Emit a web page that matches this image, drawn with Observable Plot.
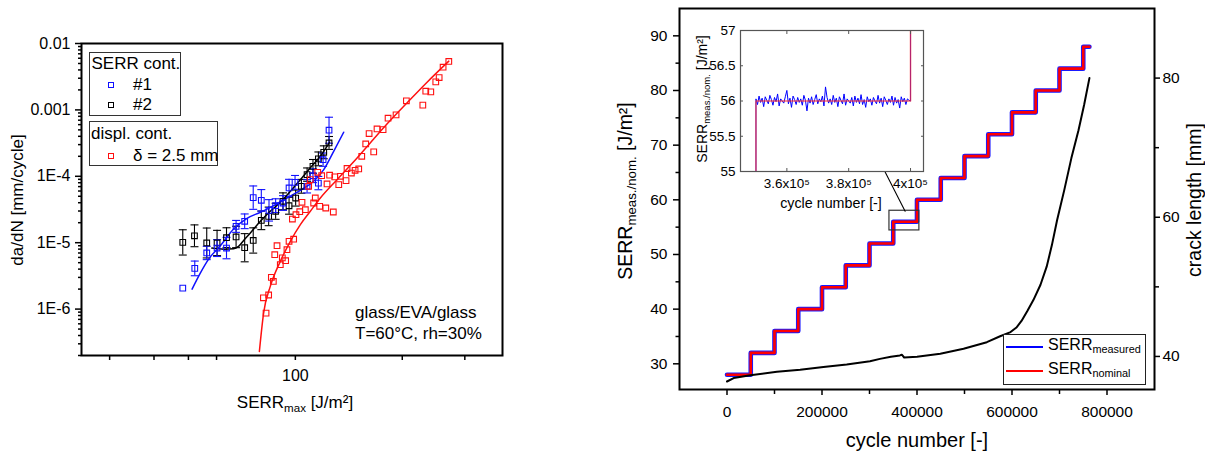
<!DOCTYPE html>
<html><head><meta charset="utf-8">
<script src="https://cdn.jsdelivr.net/npm/d3@7"></script>
<script src="https://cdn.jsdelivr.net/npm/@observablehq/plot@0.6"></script>
<style>
body{margin:0;background:#fff;font-family:"Liberation Sans",Arial,sans-serif;color:#000}
#wrap{position:relative;width:1205px;height:453px;overflow:hidden;background:#fff}
.abs{position:absolute;white-space:nowrap;line-height:1}
.abs sub{font-size:0.68em;vertical-align:baseline;position:relative;top:0.32em;line-height:0}
</style></head><body><div id="wrap"></div>
<script>
// ================= LEFT PANEL DATA =================
// SERR cont. #1 (blue)
const serr1 = [48.2,52.1,56.3,60.2,64.0,68.1,72.0,76.1,80.2,84.3,88.0,92.3,96.0,99.8,107.9,112.1,116.1,119.7,124.4];
const rate1 = [2.07e-6,4.1e-6,7.0e-6,8.3e-6,8.3e-6,1.76e-5,2.1e-5,4.77e-5,4.35e-5,3.07e-5,3.61e-5,3.96e-5,6.67e-5,8.1e-5,7.07e-5,1.02e-4,7.9e-5,1.78e-4,4.94e-4];
const errFactor1 = [1,1.29,1.26,1.34,1.45,1.23,1.29,1.5,1.45,1.45,1.27,1.29,1.35,1.27,1.26,1.27,1.26,1.26,1.57];
// SERR cont. #2 (black)
const serr2 = [48.2,52.0,56.3,60.2,64.0,68.1,72.0,76.1,80.2,84.1,88.0,92.3,96.0,100.2,104.0,107.9,112.1,116.1,120.2,124.4];
const rate2 = [1.01e-5,1.27e-5,9.9e-6,9.9e-6,1.19e-5,1.22e-5,8.4e-6,1.08e-5,2.17e-5,2.49e-5,2.97e-5,4.2e-5,3.6e-5,4.7e-5,7.07e-5,1.06e-4,1.41e-4,1.83e-4,2.3e-4,3.18e-4];
const errFactor2 = [1.55,1.46,1.68,1.55,1.41,1.45,1.63,1.55,1.38,1.38,1.32,1.34,1.34,1.32,1.27,1.26,1.27,1.27,1.25,1.25];
// displ. cont. delta = 2.5 mm (red)
const serrD = [82.7,81.3,84.1,85.6,86.7,87.5,88.8,90.7,91.9,93.9,94.7,96.0,98.9,98.1,100.4,102.9,106.7,104.4,113.8,112.6,117.1,121.8,127.9,109.0,110.2,115.6,118.6,122.8,124.9,129.1,132.5,133.9,138.9,139.8,143.8,147.3,150.8,153.8,157.8,161.3,166.2,169.8,176.6,182.4,192.1,205.4,228.5,232.9,240.6,248.5,254.0,260.6,270.4];
const rateD = [8.7e-7,1.48e-6,1.63e-6,3.0e-6,2.61e-6,6.6e-6,9.0e-6,4.66e-6,5.9e-6,5.36e-6,7.84e-6,1.05e-5,1.13e-5,2.27e-5,2.64e-5,2.93e-5,3.14e-5,4.06e-5,4.71e-5,3.96e-5,3.53e-5,3.33e-5,2.9e-5,7.07e-5,8.9e-5,1.15e-4,1.02e-4,7.66e-5,1.04e-4,9.8e-5,7.49e-5,1.0e-4,8.6e-5,1.31e-4,1.12e-4,1.23e-4,1.29e-4,2.0e-4,3.07e-4,4.4e-4,2.33e-4,5.17e-4,5.05e-4,7.49e-4,8.41e-4,1.37e-3,1.18e-3,1.91e-3,1.87e-3,2.64e-3,3.07e-3,4.4e-3,5.36e-3];
// fit curves
const fit1X = [51.2,54.0,57.0,61.5,67.0,73.1,79.7,86.9,94.7,103.3,112.6,120.2,128.2,136.8];
const fit1Y = [2.0e-6,3.49e-6,5.67e-6,9.0e-6,1.61e-5,2.33e-5,2.87e-5,3.61e-5,4.71e-5,6.15e-5,8.4e-5,1.26e-4,2.38e-4,4.61e-4];
const fit2X = [58.2,62.9,67.0,69.2,71.5,74.7,79.7,85.0,90.7,96.8,103.3,110.2,117.6,124.9];
const fit2Y = [8.3e-6,8.0e-6,8.1e-6,8.8e-6,1.08e-5,1.40e-5,2.10e-5,2.97e-5,4.06e-5,5.94e-5,8.9e-5,1.34e-4,2.0e-4,3.26e-4];
const fitDX = [79.2,81.4,85.0,90.7,96.8,103.3,110.2,117.6,131.0,149.2,166.2,185.2,206.4,234.9,270.4];
const fitDY = [2.3e-7,8.7e-7,2.2e-6,5.24e-6,1.05e-5,1.87e-5,2.97e-5,4.72e-5,8.9e-5,1.89e-4,3.66e-4,6.98e-4,1.28e-3,2.61e-3,5.42e-3];
// left axes ticks
const leftYTicks = [1e-6,1e-5,1e-4,1e-3,1e-2];
const leftYLabels = ["1E-6","1E-5","1E-4","0.001","0.01"];
const leftXTicks = [30,40,50,60,100,200,300];
const leftXLabels = ["","","","","100","",""];

// ================= RIGHT PANEL DATA =================
const stepCycles = [0,50000,100000,150000,200000,250000,300000,350000,400000,450000,500000,550000,600000,650000,700000,750000];
const stepSERR   = [28,32,36,40,44,48,52,56,60,64,68,72,76,80,84,88];
const endCycle = 763000;
const crackCycles = [0,14000,49000,105000,154000,203000,252000,301000,322000,345000,364000,368000,373000,400000,449000,498000,547000,575000,597000,610000,620000,632000,645000,660000,673000,684000,695000,710000,725000,740000,752000,763000];
const crackLength = [36.4,36.9,37.3,37.8,38.1,38.5,38.85,39.3,39.65,39.95,40.15,40.25,39.85,39.95,40.4,41.1,42.05,42.9,43.5,44.2,45.1,46.5,48.1,50.3,52.9,56.0,59.6,63.9,68.5,72.5,76.2,80.0];
// inset: measured SERR between 3.5e5 and 4e5 cycles (every 500 cycles)
const insetStart = 350000, insetStep = 500;
const insetMeasured = [
56.03,55.95,56.07,55.98,56.04,55.92,56.06,56.01,55.96,56.08,
56.02,55.94,56.05,55.99,56.10,55.93,56.03,56.00,55.97,56.06,
56.15,55.96,56.04,55.91,56.07,56.02,55.95,56.05,55.98,56.03,
55.94,56.08,56.01,55.86,56.04,55.97,56.06,55.95,56.02,56.09,
55.96,56.03,55.99,56.07,55.93,56.20,56.05,55.97,56.03,55.95,
56.08,55.98,56.04,55.92,56.06,56.01,55.96,56.10,55.94,56.03,
56.00,55.97,56.05,55.93,56.07,55.98,56.04,55.96,56.09,55.95,
56.02,55.91,56.06,55.99,56.03,55.94,56.05,56.00,55.96,56.08,
55.97,56.04,55.92,56.06,56.01,55.95,56.03,55.98,56.07,55.94,
56.05,55.97,56.02,55.90,56.06,55.99,56.04,55.95,56.03,56.01];
const zoomBox = [{x1:342000, x2:405000, y1:54.4, y2:58}];
const zoomArrow = [{x1:375000, y1:57.9, x2:286000, y2:73.1}];
const rightXTicks = [0,200000,400000,600000,800000];
const rightXMinor = [100000,300000,500000,700000];
const rightYTicks = [30,40,50,60,70,80,90];
const rightYMinor = [35,45,55,65,75,85];
const crackTicks = [40,60,80];
const crackMinor = [50,70];
const insetYTicks = [55,55.5,56,56.5,57];
const insetXTicks = [360000,380000,400000];

// ================= BUILD =================
const FONT = '"Liberation Sans", Arial, sans-serif';
const wrap = document.getElementById("wrap");
function addSvg(svg, left, top){ svg.style.position="absolute"; svg.style.left=left+"px"; svg.style.top=top+"px"; svg.style.maxWidth="none"; wrap.appendChild(svg); return svg; }
function txt(html, x, y, size, anchor="start", rotate=false){
  const d=document.createElement("div"); d.className="abs"; d.innerHTML=html;
  d.style.fontSize=size+"px"; d.style.left=x+"px"; d.style.top=y+"px";
  const tx = anchor==="middle" ? "-50%" : anchor==="end" ? "-100%" : "0";
  d.style.transform = rotate ? "translate(-50%,-50%) rotate(-90deg)" : `translate(${tx},-50%)`;
  wrap.appendChild(d); return d;
}
function box(x,y,w,h,border,bg){ const d=document.createElement("div"); Object.assign(d.style,{position:"absolute",left:x+"px",top:y+"px",width:w+"px",height:h+"px",border:border,background:bg||"transparent",boxSizing:"border-box"}); wrap.appendChild(d); return d;}

const capSymbol = {draw(ctx, size){ const w=Math.sqrt(size); ctx.moveTo(-w/2,0); ctx.lineTo(w/2,0);} };

const ptsOf = (xs,ys,fs)=>xs.map((x,i)=>({x, y:ys[i], lo: fs? ys[i]/fs[i]:ys[i], hi: fs? ys[i]*fs[i]:ys[i], f: fs?fs[i]:1}));
const p1 = ptsOf(serr1, rate1, errFactor1);
const p2 = ptsOf(serr2, rate2, errFactor2);
const pD = ptsOf(serrD, rateD);
const f1 = ptsOf(fit1X, fit1Y), f2 = ptsOf(fit2X, fit2Y), fD = ptsOf(fitDX, fitDY);

const yMinorLeft = [];
for (let e=-7; e<=-3; e++) for (let m=2; m<=9; m++){ const v=m*Math.pow(10,e); if (v>=2e-7 && v<0.01) yMinorLeft.push(v); }

const BLUE="#1010ff", RED="#ff1010";
function errMarks(p, color){
  const q = p.filter(d=>d.f>1);
  return [
    Plot.ruleX(q, {x:"x", y1:"lo", y2:"hi", stroke:color, strokeWidth:1.1}),
    Plot.dot(q, {x:"x", y:"lo", symbol:capSymbol, r:4.5, stroke:color, strokeWidth:1.1, fill:"none"}),
    Plot.dot(q, {x:"x", y:"hi", symbol:capSymbol, r:4.5, stroke:color, strokeWidth:1.1, fill:"none"})
  ];
}
const sq = (p,color)=>Plot.dot(p,{x:"x",y:"y",symbol:"square",r:3.2,stroke:color,strokeWidth:1.1,fill:"none"});

const left = Plot.plot({
  width:510, height:453, marginLeft:81, marginRight:8, marginTop:43, marginBottom:98,
  x:{type:"log", domain:[25,383]},
  y:{type:"log", domain:[2e-7,0.01]},
  style:{fontFamily:FONT, fontSize:"16px", color:"#000", background:"transparent", overflow:"visible"},
  marks:[
    ...errMarks(p2,"#000"),
    ...errMarks(p1,BLUE),
    Plot.line(fD,{x:"x",y:"y",stroke:RED,strokeWidth:1.5,curve:"monotone-x",clip:true}),
    Plot.line(f2,{x:"x",y:"y",stroke:"#000",strokeWidth:1.5,curve:"monotone-x"}),
    Plot.line(f1,{x:"x",y:"y",stroke:BLUE,strokeWidth:1.5,curve:"monotone-x"}),
    sq(p2,"#000"), sq(p1,BLUE), sq(pD,RED),
    Plot.frame({stroke:"#000",strokeWidth:2}),
    Plot.axisY(leftYTicks,{tickSize:6,tickPadding:5,strokeWidth:1.5,label:null,fontSize:16,tickFormat:(d)=>leftYLabels[leftYTicks.indexOf(d)]}),
    Plot.axisY(yMinorLeft,{tickSize:3,strokeWidth:1.5,label:null,tickFormat:()=>""}),
    Plot.axisX(leftXTicks,{tickSize:5,tickPadding:9,strokeWidth:1.5,label:null,fontSize:16,tickFormat:d=>leftXLabels[leftXTicks.indexOf(d)]})
  ]
});
addSvg(left,0,0);

// left titles, legends, annotation
txt("da/dN [mm/cycle]", 17, 200, 17, "middle", true);
txt("SERR<sub>max</sub> [J/m²]", 295, 402, 17, "middle");
txt("glass/EVA/glass", 355, 312, 17);
txt("T=60°C, rh=30%", 355, 333, 17);
box(89,52,92,64,"1.5px solid #333");
box(89,121,129,45,"1.5px solid #333");
txt("SERR cont.", 91.5, 63, 17);
txt("#1", 133, 84, 17);
txt("#2", 133, 104, 17);
txt("displ. cont.", 91, 133, 17);
txt("δ = 2.5 mm", 133, 155, 17);
box(107.5,81.5,6,6,"1px solid "+BLUE);
box(107.5,101.5,6,6,"1px solid #000");
box(107.5,152.5,6,6,"1px solid "+RED);

// ---------- right main ----------
const nominal = stepCycles.map((c,i)=>({c, v:stepSERR[i]})).concat([{c:endCycle, v:stepSERR[stepSERR.length-1]}]);
const crack = crackCycles.map((c,i)=>({c, v:crackLength[i]}));
const RM = {width:605, height:453, marginLeft:79, marginRight:51, marginTop:8, marginBottom:64};
const main = Plot.plot({
  ...RM,
  x:{domain:[-100000,900000]}, y:{domain:[25.3,95]},
  style:{fontFamily:FONT, fontSize:"15.5px", color:"#000", background:"transparent", overflow:"visible"},
  marks:[
    Plot.line(nominal,{x:"c",y:"v",curve:"step-after",stroke:"#1a1aff",strokeWidth:4.6}),
    Plot.line(nominal,{x:"c",y:"v",curve:"step-after",stroke:"#ff0000",strokeWidth:2.6}),
    Plot.rect(zoomBox,{x1:"x1",x2:"x2",y1:"y1",y2:"y2",stroke:"#333",strokeWidth:1.2,fill:"none"}),
    Plot.arrow(zoomArrow,{x1:"x1",y1:"y1",x2:"x2",y2:"y2",stroke:"#000",strokeWidth:1.1,headLength:9}),
    Plot.frame({stroke:"#000",strokeWidth:2}),
    Plot.axisY(rightYTicks,{tickSize:6,tickPadding:6,strokeWidth:1.5,label:null,fontSize:15.5}),
    Plot.axisY(rightYMinor,{tickSize:3.5,strokeWidth:1.5,label:null,tickFormat:()=>""}),
    Plot.axisX(rightXTicks,{tickSize:6,tickPadding:10,strokeWidth:1.5,label:null,fontSize:15.5,tickFormat:d=>String(d)}),
    Plot.axisX(rightXMinor,{tickSize:5,strokeWidth:1.5,label:null,tickFormat:()=>""})
  ]
});
addSvg(main,600,0);

const over = Plot.plot({
  ...RM,
  x:{domain:[-100000,900000], axis:null}, y:{domain:[35.25,90]},
  style:{fontFamily:FONT, fontSize:"15.5px", color:"#000", background:"transparent", overflow:"visible"},
  marks:[
    Plot.line(crack,{x:"c",y:"v",stroke:"#000",strokeWidth:2}),
    Plot.axisY(crackTicks,{anchor:"right",tickSize:5,tickPadding:3,strokeWidth:1.5,label:null,fontSize:15.5}),
    Plot.axisY(crackMinor,{anchor:"right",tickSize:4,strokeWidth:1.5,label:null,tickFormat:()=>""})
  ]
});
addSvg(over,600,0);

txt("SERR<sub>meas./nom.</sub> [J/m²]", 626, 191, 19.5, "middle", true);
txt("crack length [mm]", 1195, 200, 19.5, "middle", true);
txt("cycle number [-]", 917, 440, 20, "middle");

// ---------- inset ----------
const measIn = [{c:insetStart-1, v:stepSERR[6]}]
  .concat(insetMeasured.map((v,i)=>({c:insetStart+i*insetStep, v})))
  .concat([{c:stepCycles[8], v:stepSERR[7]},{c:stepCycles[8], v:stepSERR[8]}]);
const inset = Plot.plot({
  width:240, height:200, marginLeft:50, marginRight:7, marginTop:10, marginBottom:49,
  x:{domain:[345000,404200]}, y:{domain:[55,57]},
  style:{fontFamily:FONT, fontSize:"13.5px", color:"#000", background:"transparent", overflow:"visible"},
  marks:[
    Plot.frame({fill:"#fff"}),
    Plot.line(measIn,{x:"c",y:"v",stroke:"#0000ff",strokeWidth:1,clip:true}),
    Plot.line(nominal,{x:"c",y:"v",curve:"step-after",stroke:"#ff3030",strokeWidth:1.5,strokeOpacity:0.7,clip:true}),
    Plot.frame({stroke:"#555",strokeWidth:1.2}),
    Plot.axisY(insetYTicks,{tickSize:0,tickPadding:5,label:null,fontSize:13.5,tickFormat:d=>String(d)}),
    Plot.axisY(insetYTicks,{tickSize:-3,label:null,stroke:"#555",tickFormat:()=>""}),
    Plot.axisY(insetYTicks,{anchor:"right",tickSize:-3,label:null,stroke:"#555",tickFormat:()=>""}),
    Plot.axisX(insetXTicks,{tickSize:0,tickPadding:7,label:null,fontSize:13.5,tickFormat:d=>(d/1e5)+"x10⁵"}),
    Plot.axisX(insetXTicks,{tickSize:-3,label:null,stroke:"#555",tickFormat:()=>""}),
    Plot.axisX(insetXTicks,{anchor:"top",tickSize:-3,label:null,stroke:"#555",tickFormat:()=>""})
  ]
});
addSvg(inset,690,20);
txt("SERR<sub>meas./nom.</sub> [J/m²]", 702, 99, 14, "middle", true);
txt("cycle number [-]", 831, 203, 14.3, "middle");

// ---------- right legend ----------
box(1003,334,143,51,"1px solid #222","#fff");
box(1006,345.5,37,2.2,"none","#0000ff");
box(1006,369.5,37,2.2,"none","#ff0000");
txt("SERR<sub>measured</sub>", 1048, 345, 16);
txt("SERR<sub>nominal</sub>", 1048, 369, 16);
</script></body></html>
